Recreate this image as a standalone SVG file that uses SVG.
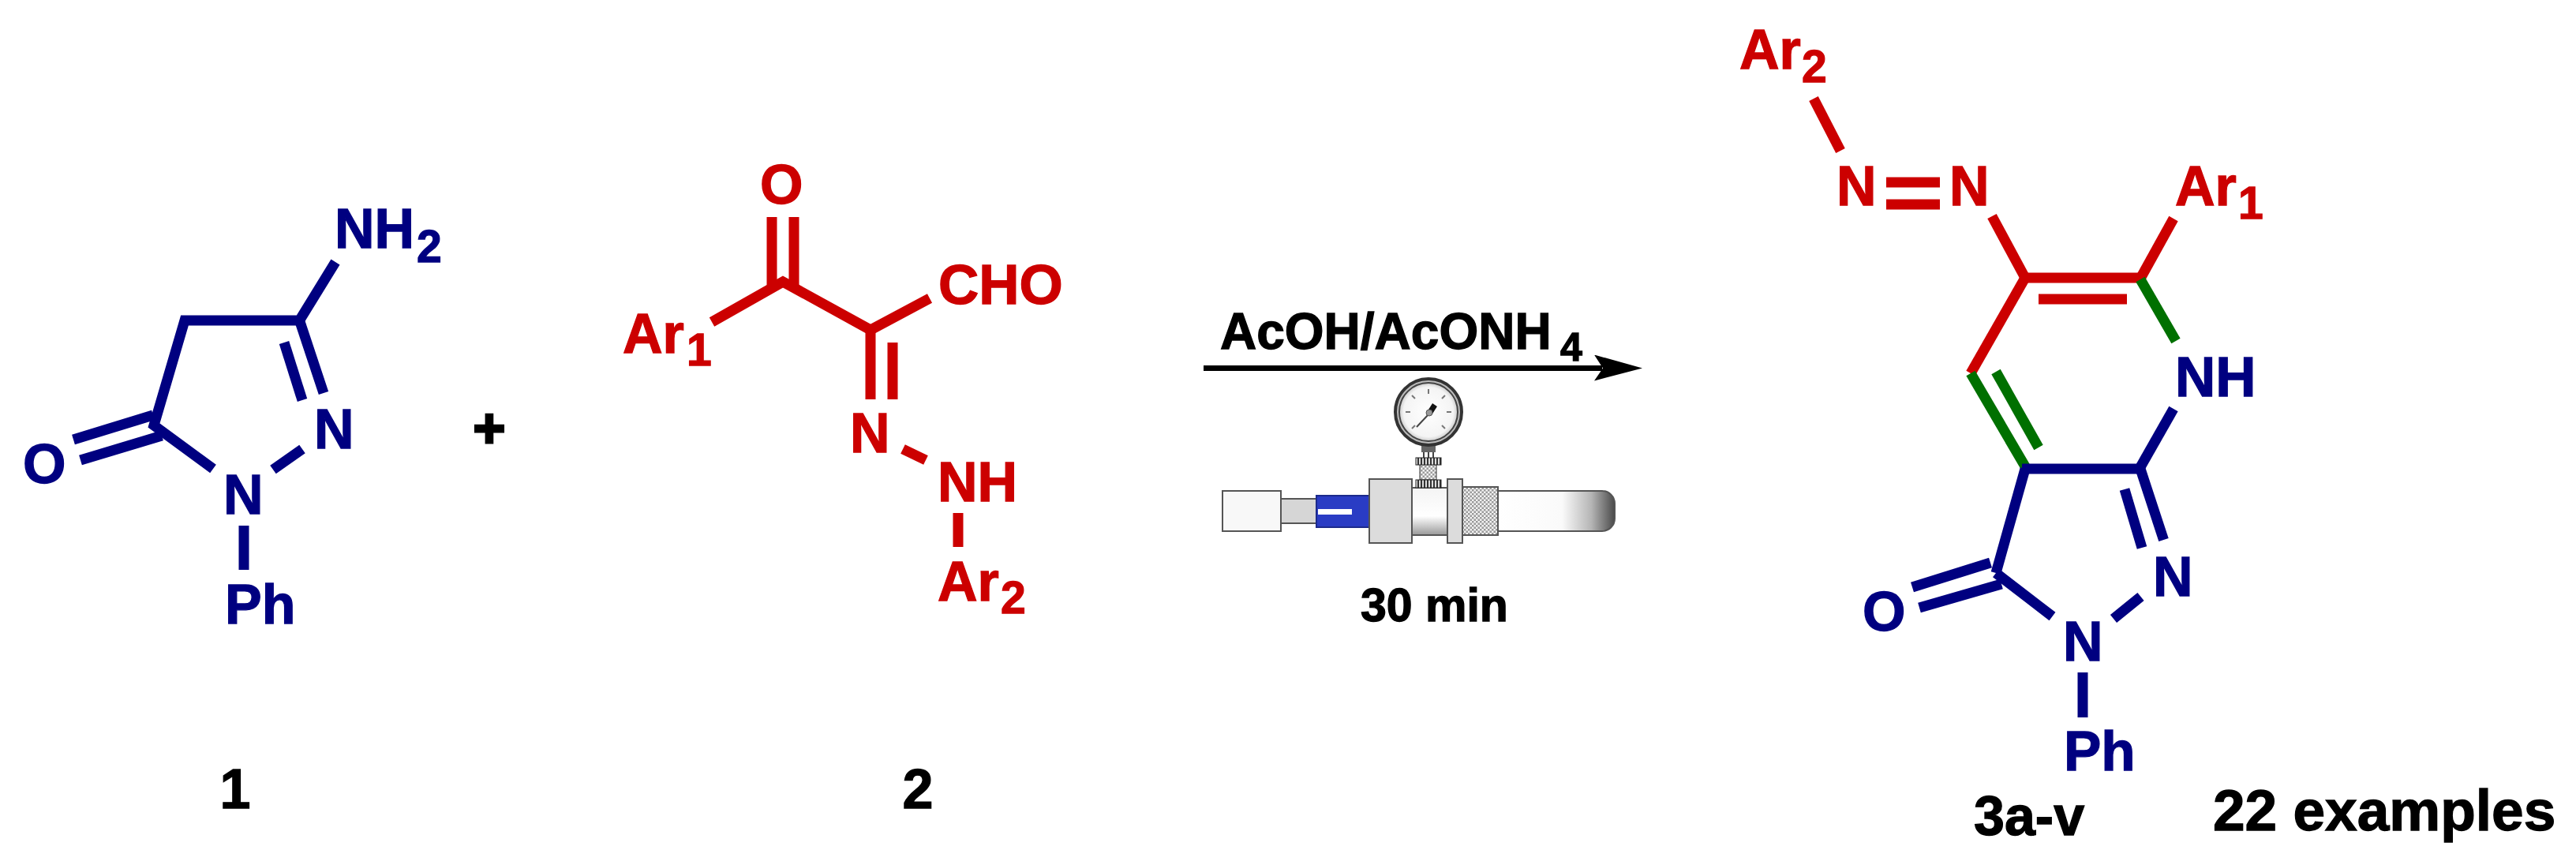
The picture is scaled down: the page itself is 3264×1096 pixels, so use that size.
<svg xmlns="http://www.w3.org/2000/svg" width="3264" height="1096" viewBox="0 0 3264 1096">
<style>
text{font-family:"Liberation Sans",Arial,sans-serif;font-weight:700;font-size:70px;stroke-width:1.300}
.navy{fill:#000080;stroke:#000080}.red{fill:#cc0000;stroke:#cc0000}.blk{fill:#000;stroke:#000}
.sub{font-size:57px}
line{fill:none;stroke-width:13}
.bn line,line.bn{stroke:#000080}
.br line,line.br{stroke:#cc0000}
line.bg{stroke:#007000}
.part{stroke:#555;stroke-width:2}
</style>
<defs>
<pattern id="mesh" width="5" height="5" patternUnits="userSpaceOnUse"><rect width="5" height="5" fill="#f2f2f2"/><rect width="2.5" height="2.5" fill="#9a9a9a"/><rect x="2.500" y="2.500" width="2.5" height="2.5" fill="#9a9a9a"/></pattern>
<pattern id="knurl" width="4" height="10" patternUnits="userSpaceOnUse"><rect width="4" height="10" fill="#ddd"/><rect width="2" height="10" fill="#333"/></pattern>
<linearGradient id="tube" x1="0" x2="1" y1="0" y2="0"><stop offset="0" stop-color="#fff"/><stop offset=".55" stop-color="#fafafa"/><stop offset=".8" stop-color="#b5b5b5"/><stop offset="1" stop-color="#4a4a4a"/></linearGradient>
<linearGradient id="cyl" x1="0" x2="0" y1="0" y2="1"><stop offset="0" stop-color="#f4f4f4"/><stop offset=".6" stop-color="#fff"/><stop offset="1" stop-color="#999"/></linearGradient>
<radialGradient id="face"><stop offset="0" stop-color="#fff"/><stop offset=".85" stop-color="#f4f4f4"/><stop offset="1" stop-color="#ccc"/></radialGradient>
<marker id="head" markerUnits="userSpaceOnUse" markerWidth="62" markerHeight="34" refX="10" refY="17" orient="auto"><path d="M0 0L61 17L0 33L11 17Z" fill="#000"/></marker>
</defs>
<rect width="3264" height="1096" fill="#fff"/>

<g id="connectors">
<line x1="1525" y1="466.500" x2="2030" y2="466.500" stroke="#000" style="stroke-width:7" marker-end="url(#head)"/>
</g>

<g id="compound-1">
<g class="bn">
<path d="M425 332L379.500 406H234L195 539L270 594" fill="none" stroke="#000080" stroke-width="13"/>
<line x1="379.500" y1="406" x2="410" y2="498"/>
<line x1="360" y1="434" x2="383" y2="507"/>
<line x1="346" y1="595" x2="383" y2="569"/>
<line x1="194" y1="526" x2="93" y2="557"/>
<line x1="205" y1="552" x2="102" y2="583"/>
<line x1="309" y1="666" x2="309" y2="722"/>
</g>
<text class="navy" x="424" y="314">NH<tspan class="sub" x="528" y="332">2</tspan></text>
<text class="navy" x="398" y="568">N</text>
<text class="navy" x="283" y="651">N</text>
<text class="navy" x="285" y="790">Ph</text>
<text class="navy" x="29" y="612">O</text>
</g>

<text id="plus" class="blk" style="stroke-width:3" x="620" y="567" text-anchor="middle">+</text>
<text id="label-1" class="blk" x="298" y="1024" text-anchor="middle">1</text>

<g id="compound-2">
<g class="br">
<path d="M902 408L992 357L1103 418L1178 378" fill="none" stroke="#cc0000" stroke-width="13"/>
<line x1="978" y1="275" x2="978" y2="362"/>
<line x1="1006" y1="275" x2="1006" y2="362"/>
<line x1="1103" y1="418" x2="1103" y2="506"/>
<line x1="1131" y1="434" x2="1131" y2="506"/>
<line x1="1144" y1="569" x2="1173" y2="583"/>
<line x1="1214" y1="650" x2="1214" y2="693"/>
</g>
<text class="red" x="789" y="447">Ar<tspan class="sub" x="870" y="463">1</tspan></text>
<text class="red" x="963" y="258">O</text>
<text class="red" x="1189" y="385" style="font-size:71px">CHO</text>
<text class="red" x="1077" y="573">N</text>
<text class="red" x="1188" y="635">NH</text>
<text class="red" x="1188" y="761">Ar<tspan class="sub" x="1268" y="777">2</tspan></text>
</g>
<text id="label-2" class="blk" x="1163" y="1024" text-anchor="middle">2</text>

<g id="reagents">
<text class="blk" style="font-size:64px" x="1546" y="442">AcOH/AcONH<tspan style="font-size:50px" x="1977" y="457">4</tspan></text>
<text class="blk" style="font-size:59px" x="1724" y="787">30 min</text>
</g>

<g id="apparatus">
<rect class="part" x="1549" y="622" width="74" height="51" fill="#f8f8f8"/>
<rect class="part" x="1623" y="632" width="45" height="31" fill="#d6d6d6"/>
<rect x="1668" y="628" width="67" height="40" fill="#2a3cc4" stroke="#1c2a8c" stroke-width="2"/>
<rect x="1670" y="645" width="43" height="7" fill="#fff"/>
<path class="part" d="M1898 622H2030A16 16 0 0 1 2046 638V657A16 16 0 0 1 2030 673H1898Z" fill="url(#tube)"/>
<rect class="part" x="1789" y="618" width="45" height="60" fill="url(#cyl)"/>
<rect class="part" x="1853" y="617" width="45" height="61" fill="url(#mesh)"/>
<rect class="part" x="1735" y="607" width="54" height="81" fill="#dcdcdc"/>
<rect class="part" x="1834" y="607" width="19" height="81" fill="#dcdcdc"/>
<rect x="1801" y="563" width="18" height="10" fill="#666"/>
<path d="M1804 573V580M1810 573V580M1816 573V580" stroke="#444" stroke-width="2" fill="none"/>
<rect x="1799" y="588" width="21" height="20" fill="url(#mesh)" stroke="#333" stroke-width="1"/>
<rect x="1794" y="580" width="32" height="9" fill="url(#knurl)" stroke="#222" stroke-width="1"/>
<rect x="1794" y="608" width="32" height="10" fill="url(#knurl)" stroke="#222" stroke-width="1"/>
<circle cx="1810" cy="522" r="42" fill="#bbb" stroke="#333" stroke-width="4"/>
<circle cx="1810" cy="522" r="37" fill="url(#face)" stroke="#444" stroke-width="2"/>
<g stroke="#777" stroke-width="2">
<path d="M1810 493V499M1789 501L1793 505M1781 522H1787M1789 543L1793 539M1831 501L1827 505M1839 522H1833M1831 543L1827 539"/>
</g>
<path d="M1795 541L1811 524" stroke="#444" stroke-width="2" fill="none"/>
<path d="M1811 524L1818 513" stroke="#111" stroke-width="7" fill="none"/>
<circle cx="1811" cy="523" r="4" fill="#999" stroke="#555" stroke-width="1"/>
</g>

<g id="compound-3">
<g>
<line class="br" x1="2298" y1="125" x2="2332" y2="191"/>
<line class="br" x1="2390" y1="231" x2="2458" y2="231"/>
<line class="br" x1="2390" y1="259" x2="2458" y2="259"/>
<line class="br" x1="2524" y1="274" x2="2566" y2="352"/>
<line class="br" x1="2754" y1="277" x2="2712.500" y2="352"/>
<line class="br" x1="2562" y1="352" x2="2716" y2="352"/>
<line class="br" x1="2583" y1="379" x2="2695" y2="379"/>
<line class="br" x1="2566" y1="352" x2="2497" y2="473"/>
<line class="bg" x1="2712" y1="354" x2="2757" y2="432"/>
<line class="bg" x1="2497" y1="473" x2="2566" y2="591"/>
<line class="bg" x1="2529" y1="471" x2="2583" y2="567"/>
<line class="bn" x1="2754" y1="518" x2="2712.500" y2="591"/>
<line class="bn" x1="2562" y1="594" x2="2716" y2="594"/>
<line class="bn" x1="2566" y1="594" x2="2529" y2="726"/>
<line class="bn" x1="2712" y1="594" x2="2741.500" y2="684"/>
<line class="bn" x1="2692" y1="620" x2="2714" y2="694"/>
<line class="bn" x1="2712.500" y1="756" x2="2678" y2="784"/>
<line class="bn" x1="2529" y1="726" x2="2600.500" y2="781"/>
<line class="bn" x1="2522" y1="713" x2="2423" y2="744"/>
<line class="bn" x1="2536" y1="740" x2="2432" y2="770"/>
<line class="bn" x1="2639" y1="852" x2="2639" y2="909"/>
</g>
<text class="red" x="2204" y="87">Ar<tspan class="sub" x="2283" y="104">2</tspan></text>
<text class="red" x="2327" y="260">N</text>
<text class="red" x="2470" y="260">N</text>
<text class="red" x="2756" y="260">Ar<tspan class="sub" x="2836" y="277">1</tspan></text>
<text class="navy" x="2756" y="502" style="font-size:71px">NH</text>
<text class="navy" x="2728" y="755">N</text>
<text class="navy" x="2614" y="837">N</text>
<text class="navy" x="2360" y="799">O</text>
<text class="navy" x="2615" y="976" style="font-size:71px">Ph</text>
</g>
<text id="label-3" class="blk" x="2501" y="1058">3a-v</text>
<text id="examples" class="blk" style="font-size:73px" x="2804" y="1052">22 examples</text>
</svg>
